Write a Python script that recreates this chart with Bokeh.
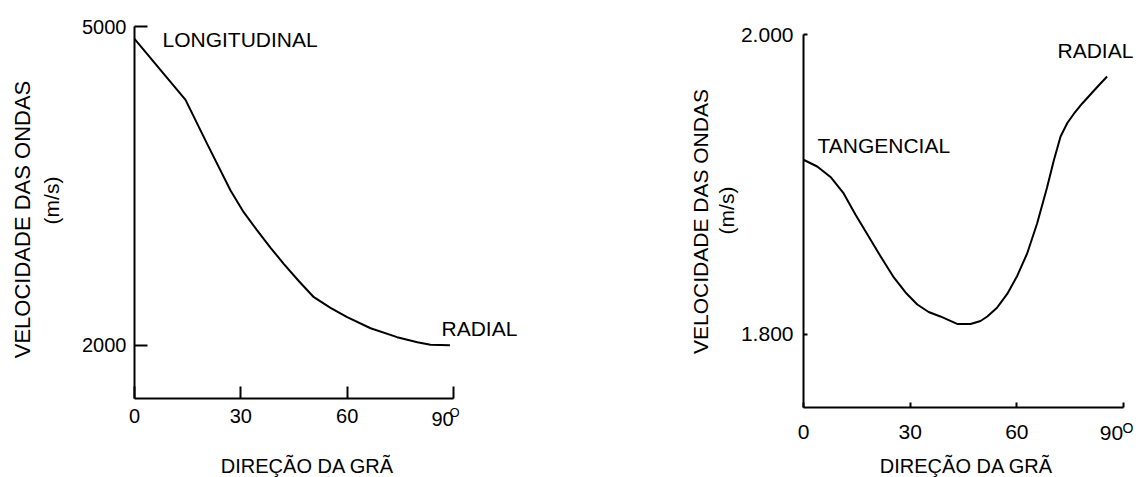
from math import pi
from bokeh.plotting import figure
from bokeh.models import Range1d, FixedTicker, Label, NumeralTickFormatter
from bokeh.layouts import row
from bokeh.embed import file_html
from bokeh.resources import INLINE

# ---------------- data ----------------
angle_long = [0, 14.4, 20.5, 27.1, 30.8, 34.6, 38.4, 42.1, 46.4, 50.6, 55.3,
              60.0, 66.6, 74.1, 79.8, 83.5, 89.0]
vel_long = [4884, 4310, 3896, 3457, 3253, 3081, 2918, 2767, 2603, 2453, 2353,
            2265, 2161, 2077, 2030, 2005, 2000]

angle_tang = [0, 3.85, 7.6, 11.3, 14.6, 17.9, 21.7, 25.4, 28.7, 32.0, 35.2,
              38.5, 43.2, 47.0, 49.8, 51.7, 54.5, 57.3, 60.1, 62.9, 65.7,
              68.5, 70.4, 72.3, 74.2, 76.0, 78.4, 80.7, 83.0, 85.4]
vel_tang = [1.9165, 1.912, 1.905, 1.894, 1.880, 1.867, 1.852, 1.838, 1.828,
            1.820, 1.815, 1.812, 1.807, 1.807, 1.809, 1.812, 1.818, 1.827,
            1.839, 1.854, 1.874, 1.898, 1.916, 1.932, 1.941, 1.947, 1.954,
            1.960, 1.966, 1.972]

x_ticks = [0, 30, 60, 90]
left_y_ticks = [2000, 5000]
right_y_ticks = [1.8, 2.0]

x_title = "DIREÇÃO DA GRÃ"
y_title = "VELOCIDADE DAS ONDAS"
y_unit = "(m/s)"

FONT = "Liberation Sans"
H = 477


def style_axes(p, tick_len_x, tick_len_y, xstand, ystand, fsize, ybounds, yloc):
    for ax in (p.xaxis[0], p.yaxis[0]):
        ax.axis_line_width = 2
        ax.axis_line_color = "black"
        ax.major_tick_line_width = 2
        ax.major_tick_line_color = "black"
        ax.major_tick_out = 0
        ax.minor_tick_line_color = None
        ax.major_label_text_font = FONT
        ax.major_label_text_font_size = fsize
        ax.major_label_text_color = "black"
    xa, ya = p.xaxis[0], p.yaxis[0]
    xa.major_tick_in = tick_len_x
    ya.major_tick_in = tick_len_y
    xa.major_label_standoff = xstand
    ya.major_label_standoff = ystand
    xa.ticker = FixedTicker(ticks=x_ticks)
    xa.major_label_overrides = {90: ""}
    xa.bounds = (0, 90)
    xa.fixed_location = yloc
    ya.bounds = ybounds
    ya.fixed_location = 0
    p.xgrid.grid_line_color = None
    p.ygrid.grid_line_color = None
    p.outline_line_color = None


def add_label(p, x, y, text, size, align="left", angle=0.0):
    p.add_layout(Label(x=x, y=y, text=text, text_font=FONT, text_font_size=size,
                       text_color="black", text_align=align,
                       text_baseline="middle", angle=angle))


def make_fig(w, xr, yr):
    p = figure(width=w, height=H, x_range=Range1d(*xr), y_range=Range1d(*yr),
               output_backend="svg", toolbar_location=None, title=None,
               min_border=0, min_border_left=0, min_border_right=0,
               min_border_top=0, min_border_bottom=0)
    return p


# ---------------- left panel (canvas px 0..570) ----------------
LW = 570
LX0, LXW = 134, 319          # px of 0 deg, px width of 90 deg
LY0, LYH = 26, 372           # px of 5000, px height of 5000->1500


def lx(px):
    return (px - LX0) / LXW * 90


def ly(py):
    return 5000 - (py - LY0) / LYH * 3500


p1 = make_fig(LW, (lx(0), lx(LW)), (ly(H), ly(0)))
p1.line(angle_long, vel_long, line_color="black", line_width=2)
style_axes(p1, 12, 13, 10, 8, "20px", (1500, 5000), 1500)
p1.yaxis[0].ticker = FixedTicker(ticks=left_y_ticks)
p1.yaxis[0].formatter = NumeralTickFormatter(format="0")

add_label(p1, lx(162), ly(39), "LONGITUDINAL", "21px")
add_label(p1, lx(441), ly(328), "RADIAL", "21px")
add_label(p1, lx(442), ly(418), "90", "20px", align="center")
add_label(p1, lx(449), ly(412), "O", "13px")
add_label(p1, lx(307), ly(465), x_title, "20px", align="center")
add_label(p1, lx(22), ly(219), y_title, "22px", align="center", angle=pi / 2)
add_label(p1, lx(51), ly(200), y_unit, "21px", align="center", angle=pi / 2)

# ---------------- right panel (canvas px 570..1143) ----------------
RW = 1143 - LW
RX0, RXW = 803, 320
RY0, RYH = 34, 373
R_TOP_V, R_BOT_V = 2.0, 1.7513


def rx(px):
    return (px - RX0) / RXW * 90


def ry(py):
    return R_TOP_V - (py - RY0) / RYH * (R_TOP_V - R_BOT_V)


p2 = make_fig(RW, (rx(LW), rx(1143)), (ry(H), ry(0)))
p2.line(angle_tang, vel_tang, line_color="black", line_width=2)
style_axes(p2, 5, 4, 17, 10, "21px", (R_BOT_V, R_TOP_V), R_BOT_V)
p2.yaxis[0].ticker = FixedTicker(ticks=right_y_ticks)
p2.yaxis[0].formatter = NumeralTickFormatter(format="0.000")

add_label(p2, rx(817), ry(145), "TANGENCIAL", "21px")
add_label(p2, rx(1057), ry(50), "RADIAL", "21px")
add_label(p2, rx(1111), ry(432), "90", "21px", align="center")
add_label(p2, rx(1122), ry(427), "O", "14px")
add_label(p2, rx(966), ry(465), x_title, "20px", align="center")
add_label(p2, rx(700), ry(221), y_title, "21px", align="center", angle=pi / 2)
add_label(p2, rx(726), ry(210), y_unit, "21px", align="center", angle=pi / 2)

layout = row(p1, p2)
open("out.html", "w").write(file_html(layout, INLINE))
